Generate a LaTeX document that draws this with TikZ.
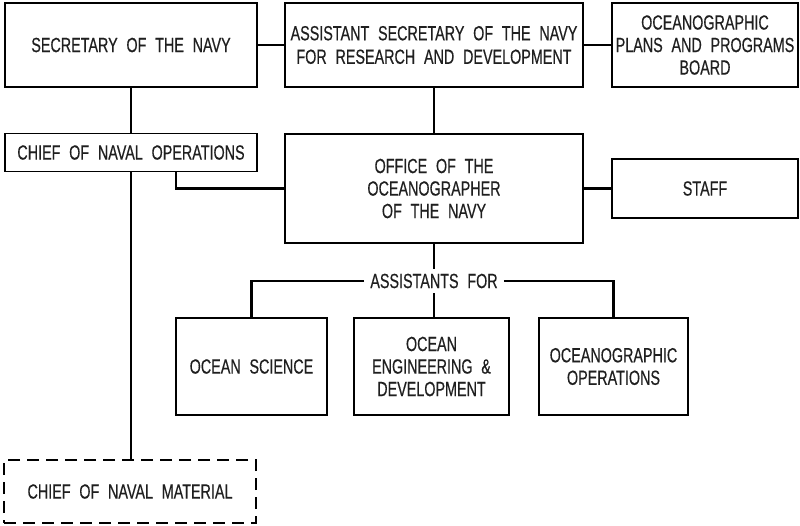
\documentclass[tikz,border=0pt]{standalone}
\usepackage{fontspec}
\setmainfont{Liberation Sans}[FakeStretch=0.7, WordSpace=2.2, FakeBold=0.4]
\begin{document}
\begin{tikzpicture}[x=1pt,y=-1pt,
  box/.style={draw, line width=1.3pt, rectangle, inner sep=0pt, align=center,
    font=\fontsize{20.5}{22.5}\selectfont, text=black!88},
  dbox/.style={box, dash pattern=on 12pt off 7pt},
  conn/.style={line width=2.6pt},
  lbl/.style={inner xsep=6pt, inner ysep=5pt, font=\fontsize{20.5}{22.5}\selectfont, text=black!88}]
\useasboundingbox[fill=white] (0,0) rectangle (800,525);
\node[box, minimum width=252pt, minimum height=84pt] (sec) at (131,45) {SECRETARY OF THE NAVY};
\node[box, minimum width=298pt, minimum height=84pt] (asn) at (434,45) {ASSISTANT SECRETARY OF THE NAVY\\[1pt]FOR RESEARCH AND DEVELOPMENT};
\node[box, minimum width=186pt, minimum height=84pt] (board) at (705,45) {OCEANOGRAPHIC\\PLANS AND PROGRAMS\\BOARD};
\node[box, minimum width=252pt, minimum height=38pt] (cno) at (131,152.5) {CHIEF OF NAVAL OPERATIONS};
\node[box, minimum width=298pt, minimum height=109pt] (ootn) at (434,188.5) {OFFICE OF THE\\OCEANOGRAPHER\\OF THE NAVY};
\node[box, minimum width=186pt, minimum height=59pt] (staff) at (705,188.5) {STAFF};
\node[lbl] (assist) at (434,281) {ASSISTANTS FOR};
\node[box, minimum width=151pt, minimum height=97pt] (os) at (251.5,366.5) {OCEAN SCIENCE};
\node[box, minimum width=155pt, minimum height=97pt] (oe) at (431.5,366.5) {OCEAN\\ENGINEERING \&\\DEVELOPMENT};
\node[box, minimum width=149pt, minimum height=97pt] (oo) at (613.5,366.5) {OCEANOGRAPHIC\\OPERATIONS};
\node[dbox, minimum width=252pt, minimum height=63pt] (cnm) at (130,491.5) {CHIEF OF NAVAL MATERIAL};
\coordinate (k) at (176,0);
\draw[conn] (sec.east) -- (asn.west);
\draw[conn] (asn.east) -- (board.west);
\draw[conn] (sec.south) -- (cno.north);
\draw[conn] (cno.south) -- (cno.south |- cnm.north);
\draw[conn] (cno.south -| k) |- (ootn.west);
\draw[conn] (asn.south) -- (ootn.north);
\draw[conn] (ootn.east) -- (staff.west);
\draw[conn] (ootn.south) -- (assist.north);
\draw[conn] (assist.south) -- (assist.south |- oe.north);
\draw[conn] (assist.west) -| (os.north);
\draw[conn] (assist.east) -| (oo.north);
\end{tikzpicture}
\end{document}
